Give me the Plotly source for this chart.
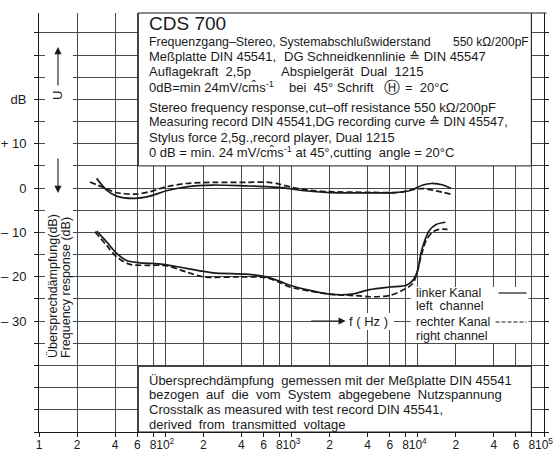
import plotly.graph_objects as go

# ---------------- data ----------------
freq_ticks = [10, 20, 40, 60, 80, 100, 200, 400, 600, 800, 1000, 2000, 4000, 6000, 8000,
              10000, 20000, 40000, 60000, 80000, 100000]
freq_tick_text = ["1", "2", "4", "6", "8", "10<sup>2</sup>", "2", "4", "6", "8",
                  "10<sup>3</sup>", "2", "4", "6", "8", "10<sup>4</sup>",
                  "2", "4", "6", "8", "10<sup>5</sup>"]
db_ticks = [-55, -50, -45, -40, -35, -30, -25, -20, -15, -10, -5, 0, 5, 10, 15, 20, 25, 30, 35]
db_tick_text = ["", "", "", "", "", "– 30", "", "– 20", "", "– 10", "", "0", "", "+ 10", "", "dB", "", "", ""]

# frequency response, left channel (solid)
fr_left_f = [28.6, 34.3, 41.2, 57.5, 75.5, 102, 147, 238, 440, 630, 800, 1000, 1400, 2000, 4150,
             6360, 8620, 10970, 12790, 15850, 18400]
fr_left_db = [2.2, -0.45, -1.8, -2.3, -1.8, -0.6, 0.3, 0.7, 0.5, 0.35, 0.15, -0.2, -0.7, -1.0, -1.05,
              -1.05, -0.6, 0.7, 1.05, 0.7, -0.1]
# frequency response, right channel (dashed)
fr_right_f = [25.3, 32.3, 41.2, 57.5, 75.5, 102, 147, 238, 440, 630, 800, 1000, 1400, 2000, 4150,
              7180, 9140, 10970, 13990, 18400]
fr_right_db = [1.4, 0.15, -1.05, -1.35, -0.8, 0.3, 1.05, 1.3, 1.3, 1.35, 0.9, 0.2, -0.5, -0.8, -0.95,
               -0.95, -0.3, -0.1, -0.6, -1.4]
# crosstalk, left channel (solid)
ct_left_f = [28.6, 34.3, 41.2, 49.3, 61, 96.2, 147, 239, 440, 630, 807, 968, 2006, 3000, 4150,
             5990, 8110, 9140, 10000, 10600, 11400, 12400, 13990, 16600]
ct_left_db = [-9.7, -12.1, -14.7, -16.3, -16.8, -17.2, -18.1, -19.1, -19.4, -20.0, -21.0, -21.9,
              -23.9, -23.9, -22.9, -22.3, -21.9, -20.8, -18.5, -14.7, -11.7, -9.5, -8.2, -7.7]
# crosstalk, right channel (dashed)
ct_right_f = [27.7, 34.3, 41.2, 52.4, 71, 102, 147, 200, 440, 630, 807, 968, 2006, 3470, 4150,
              5990, 7630, 9140, 10000, 10600, 11700, 13100, 14800, 17200]
ct_right_db = [-9.85, -12.9, -15.5, -17.2, -17.4, -17.5, -18.9, -20.0, -20.0, -20.2, -21.3, -22.3,
               -23.9, -24.3, -24.5, -24.2, -23.0, -21.5, -18.5, -15.5, -11.7, -9.9, -9.3, -9.3]

# ---------------- layout helpers (pixel -> paper) ----------------
L, R, T, B = 39, 544.5, 13, 432


def PX(x):
    return (x - L) / (R - L)


def PY(y):
    return (B - y) / (B - T)


FONT = "Liberation Sans, Arial, Helvetica, sans-serif"
INK = "#1a1a1a"
GRID = "#4a4a4a"

fig = go.Figure()
line_w = 1.7
for f, d, dash in [(fr_left_f, fr_left_db, "solid"), (fr_right_f, fr_right_db, "6px,3px"),
                   (ct_left_f, ct_left_db, "solid"), (ct_right_f, ct_right_db, "6px,3px")]:
    fig.add_trace(go.Scatter(x=f, y=d, mode="lines",
                             line=dict(color=INK, width=line_w, dash=dash, shape="spline", smoothing=0.8),
                             hoverinfo="skip"))

shapes = []
annotations = []


def rect(x0, y0, x1, y1, border=False):
    shapes.append(dict(type="rect", xref="paper", yref="paper",
                       x0=PX(x0), x1=PX(x1), y0=PY(y1), y1=PY(y0),
                       fillcolor="white",
                       line=dict(color=INK, width=1 if border else 0),
                       layer="above"))


def hline(x0, x1, y, dash="solid", width=1):
    shapes.append(dict(type="line", xref="paper", yref="paper", x0=PX(x0), x1=PX(x1),
                       y0=PY(y), y1=PY(y), line=dict(color=INK, width=width, dash=dash), layer="above"))


def text(x, y, s, size=13, anchor="left", angle=0):
    annotations.append(dict(xref="paper", yref="paper", x=PX(x), y=PY(y), text=s, showarrow=False,
                            xanchor=anchor, yanchor="middle", textangle=angle,
                            font=dict(family=FONT, size=size, color=INK)))


# masks / boxes
rect(45, 40, 73, 362)                      # left column with arrows & vertical titles
rect(138.4, 13, 531.8, 165.9, border=True)  # top info box
hline(531.8, 547, 13)
rect(138.4, 366.3, 531.8, 432, border=True)  # bottom info box
rect(344, 313, 394, 330)                     # f (Hz)
rect(411, 287, 529, 343)                     # legend

# top box text
X0 = 147
text(X0, 23, "CDS 700", size=19)
text(X0, 42, "Frequenzgang–Stereo, Systemabschlußwiderstand", size=12.4)
text(531, 42, "550 kΩ/200pF", size=12, anchor="right")
text(X0, 57, "Meßplatte DIN 45541,")
text(282, 57, "DG Schneidkennlinie ≙ DIN 45547")
text(X0, 71, "Auflagekraft  2,5p")
text(279, 71, "Abspielgerät  Dual  1215")
text(X0, 87, "0dB=min 24mV/cm\u0302s<sup>-1</sup>")
text(287, 87, "bei  45° Schrift")
text(382, 87, "Ⓗ", size=16)
text(403, 87, "=  20°C")
text(X0, 107, "Stereo frequency response,cut–off resistance 550 kΩ/200pF")
text(X0, 122, "Measuring record DIN 45541,DG recording curve ≙ DIN 45547,", size=12.7)
text(X0, 137, "Stylus force 2,5g.,record player, Dual 1215")
text(X0, 152, "0 dB = min. 24 mV/cm\u0302s<sup>-1</sup> at 45°,cutting  angle = 20°C")

# bottom box text
text(X0, 380, "Übersprechdämpfung  gemessen mit der Meßplatte DIN 45541")
text(X0, 394, "bezogen  auf  die  vom  System  abgegebene  Nutzspannung")
text(X0, 409, "Crosstalk as measured with test record DIN 45541,")
text(X0, 424, "derived  from  transmitted  voltage")

# vertical titles
text(53, 286, "Übersprechdämpfung(dB)", size=12.5, anchor="center", angle=-90)
text(66, 287, "Frequency response (dB)", size=12.5, anchor="center", angle=-90)
text(58, 95, "U", size=13, anchor="center", angle=-90)


# arrows
def arrow(xh, yh, ax, ay):
    annotations.append(dict(xref="paper", yref="paper", x=PX(xh), y=PY(yh), ax=ax, ay=ay,
                            axref="pixel", ayref="pixel", text="", showarrow=True,
                            arrowhead=2, arrowsize=1.3, arrowwidth=1.1, arrowcolor=INK))


arrow(58, 47, 0, 40)
arrow(58, 193, 0, -36)
arrow(346, 321, -36, 0)
text(347, 321, "f ( Hz )")

# legend
text(414, 293, "linker Kanal", size=12.5)
text(414, 306, "left  channel", size=12.5)
text(414, 322, "rechter Kanal", size=12.5)
text(414, 336, "right channel", size=12.5)
hline(499, 527, 293, width=1.2)
hline(496, 527, 322, dash="4px,2px", width=1.2)

fig.update_layout(
    width=560, height=453, autosize=False,
    margin=dict(l=L, r=560 - R, t=T, b=453 - B, pad=0),
    paper_bgcolor="white", plot_bgcolor="white",
    showlegend=False,
    shapes=shapes, annotations=annotations,
    font=dict(family=FONT, size=13, color=INK),
    xaxis=dict(type="log", range=[1, 5], tickmode="array", tickvals=freq_ticks, ticktext=freq_tick_text,
               showgrid=True, gridcolor=GRID, gridwidth=1, zeroline=False, automargin=False,
               showline=True, linecolor=INK, linewidth=1, mirror=False,
               ticks="outside", ticklen=4, tickcolor=INK, tickwidth=1, tickangle=0,
               ticklabelstandoff=-2,
               tickfont=dict(family=FONT, size=12, color=INK)),
    yaxis=dict(range=[-55, 39.5], tickmode="array", tickvals=db_ticks, ticktext=db_tick_text,
               showgrid=True, gridcolor=GRID, gridwidth=1, zeroline=False, automargin=False,
               showline=True, linecolor=INK, linewidth=1, mirror="ticks",
               ticks="outside", ticklen=4, tickcolor=INK, tickwidth=1, ticklabelstandoff=5,
               tickfont=dict(family=FONT, size=13, color=INK)),
)

fig.write_html("out.html", config={"displayModeBar": False},
               post_script="document.body.style.margin='0';document.body.style.overflow='hidden';")
